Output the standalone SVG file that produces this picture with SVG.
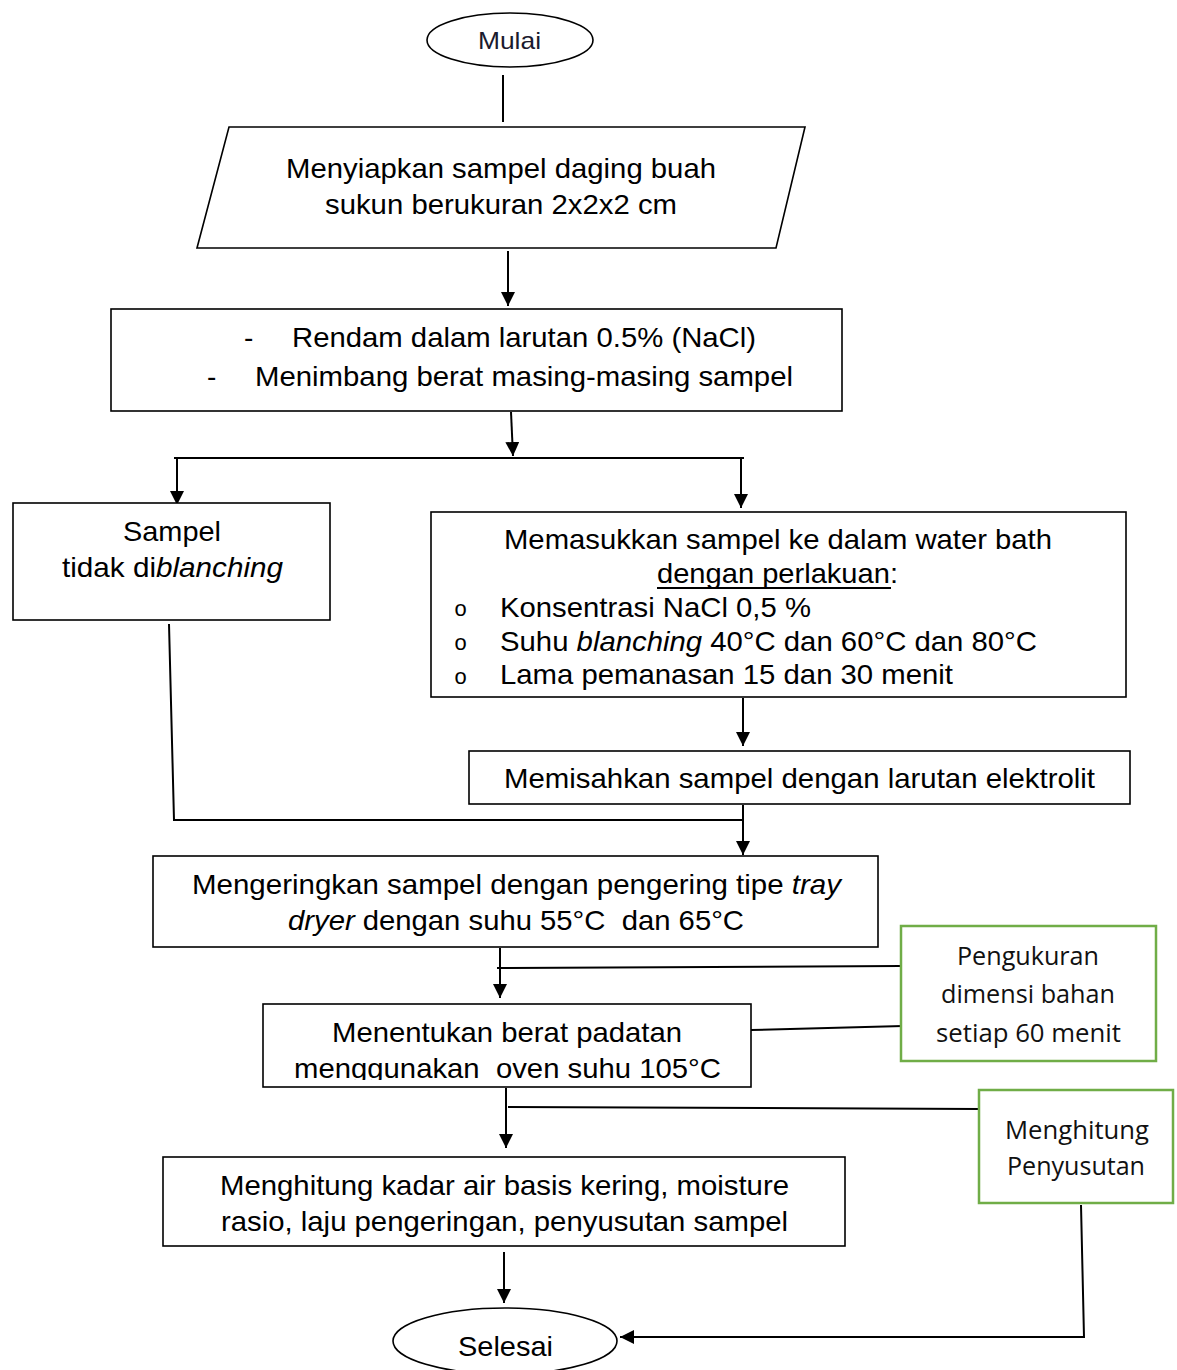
<svg xmlns="http://www.w3.org/2000/svg" width="1177" height="1370" viewBox="0 0 1177 1370">
<defs>
<style>
.box{fill:#fff;stroke:#000;stroke-width:1.6}
.gbox{fill:#fff;stroke:#70ad47;stroke-width:2.5}
.t{font-family:"Liberation Sans",Arial,sans-serif;font-size:28px;fill:#000}
.g{font-family:"Open Sans","Noto Sans",sans-serif;font-size:25px;fill:#111}
.b{font-family:"Liberation Mono","Courier New",monospace;font-size:22px;fill:#000}
.ln{fill:none;stroke:#000;stroke-width:2}
</style>
<marker id="ah" viewBox="0 0 10 10" refX="10" refY="5" markerWidth="14" markerHeight="14" markerUnits="userSpaceOnUse" orient="auto">
<path d="M0,0 L10,5 L0,10 z" fill="#000"/>
</marker>
<clipPath id="clipM"><rect x="264" y="1005" width="486" height="75"/></clipPath>
</defs>

<g id="connectors">
<line class="ln" x1="503" y1="75" x2="503" y2="122"/>
<line class="ln" x1="508" y1="251" x2="508" y2="306" marker-end="url(#ah)"/>
<line class="ln" x1="511" y1="412" x2="513" y2="456" marker-end="url(#ah)"/>
<line class="ln" x1="174" y1="458" x2="744" y2="458"/>
<line class="ln" x1="177" y1="458" x2="177" y2="505" marker-end="url(#ah)"/>
<line class="ln" x1="741" y1="459" x2="741" y2="508" marker-end="url(#ah)"/>
<line class="ln" x1="743" y1="698" x2="743" y2="746" marker-end="url(#ah)"/>
<polyline class="ln" points="169,624 174,820 743,820"/>
<line class="ln" x1="743" y1="805" x2="743" y2="855" marker-end="url(#ah)"/>
<line class="ln" x1="500" y1="948" x2="500" y2="998" marker-end="url(#ah)"/>
<line class="ln" x1="497" y1="968" x2="901" y2="966"/>
<line class="ln" x1="751" y1="1030" x2="903" y2="1026"/>
<line class="ln" x1="506" y1="1088" x2="506" y2="1148" marker-end="url(#ah)"/>
<line class="ln" x1="508" y1="1107" x2="979" y2="1109"/>
<line class="ln" x1="504" y1="1252" x2="504" y2="1303" marker-end="url(#ah)"/>
<polyline class="ln" points="1081,1205 1084,1337 620,1337" marker-end="url(#ah)"/>
</g>

<g id="mulai">
<ellipse cx="510" cy="40" rx="83" ry="27" fill="#fff" stroke="#000" stroke-width="1.6"/>
<text class="t" x="478" y="49" textLength="63" lengthAdjust="spacingAndGlyphs" style="font-size:24px;fill:#1a1a2e">Mulai</text>
</g>

<g id="menyiapkan">
<polygon class="box" points="229,127 805,127 776,248 197,248"/>
<text class="t" x="286" y="178" textLength="430" lengthAdjust="spacingAndGlyphs">Menyiapkan sampel daging buah</text>
<text class="t" x="325" y="214" textLength="352" lengthAdjust="spacingAndGlyphs">sukun berukuran 2x2x2 cm</text>
</g>

<g id="rendam">
<rect class="box" x="111" y="309" width="731" height="102"/>
<text class="t" x="244" y="347">-</text>
<text class="t" x="292" y="347" textLength="464" lengthAdjust="spacingAndGlyphs">Rendam dalam larutan 0.5% (NaCl)</text>
<text class="t" x="207" y="386">-</text>
<text class="t" x="255" y="386" textLength="538" lengthAdjust="spacingAndGlyphs">Menimbang berat masing-masing sampel</text>
</g>

<g id="tidak-blanching">
<rect class="box" x="13" y="503" width="317" height="117"/>
<text class="t" x="123" y="541" textLength="98" lengthAdjust="spacingAndGlyphs">Sampel</text>
<text class="t" x="62" y="577" textLength="221" lengthAdjust="spacingAndGlyphs">tidak di<tspan font-style="italic">blanching</tspan></text>
</g>

<g id="waterbath">
<rect class="box" x="431" y="512" width="695" height="185"/>
<text class="t" x="504" y="549" textLength="548" lengthAdjust="spacingAndGlyphs">Memasukkan sampel ke dalam water bath</text>
<text class="t" x="657" y="583" textLength="241" lengthAdjust="spacingAndGlyphs">dengan perlakuan:</text>
<line x1="657" y1="588" x2="891" y2="588" stroke="#000" stroke-width="1.8"/>
<text class="b" x="454" y="616">o</text>
<text class="t" x="500" y="617" textLength="311" lengthAdjust="spacingAndGlyphs">Konsentrasi NaCl 0,5 %</text>
<text class="b" x="454" y="650">o</text>
<text class="t" x="500" y="651" textLength="537" lengthAdjust="spacingAndGlyphs">Suhu <tspan font-style="italic">blanching</tspan> 40°C dan 60°C dan 80°C</text>
<text class="b" x="454" y="684">o</text>
<text class="t" x="500" y="684" textLength="453" lengthAdjust="spacingAndGlyphs">Lama pemanasan 15 dan 30 menit</text>
</g>

<g id="memisahkan">
<rect class="box" x="469" y="751" width="661" height="53"/>
<text class="t" x="504" y="788" textLength="591" lengthAdjust="spacingAndGlyphs">Memisahkan sampel dengan larutan elektrolit</text>
</g>

<g id="mengeringkan">
<rect class="box" x="153" y="856" width="725" height="91"/>
<text class="t" x="192" y="894" textLength="649" lengthAdjust="spacingAndGlyphs">Mengeringkan sampel dengan pengering tipe <tspan font-style="italic">tray</tspan></text>
<text class="t" x="288" y="930" textLength="456" lengthAdjust="spacingAndGlyphs" xml:space="preserve"><tspan font-style="italic">dryer</tspan> dengan suhu 55°C  dan 65°C</text>
</g>

<g id="pengukuran">
<rect class="gbox" x="901" y="926" width="255" height="135"/>
<text class="g" x="957" y="965" textLength="142" lengthAdjust="spacingAndGlyphs">Pengukuran</text>
<text class="g" x="941" y="1003" textLength="174" lengthAdjust="spacingAndGlyphs">dimensi bahan</text>
<text class="g" x="936" y="1042" textLength="185" lengthAdjust="spacingAndGlyphs">setiap 60 menit</text>
</g>

<g id="menentukan">
<rect class="box" x="263" y="1004" width="488" height="83"/>
<g clip-path="url(#clipM)">
<text class="t" x="332" y="1042" textLength="350" lengthAdjust="spacingAndGlyphs">Menentukan berat padatan</text>
<text class="t" x="294" y="1078" textLength="427" lengthAdjust="spacingAndGlyphs" xml:space="preserve">menggunakan  oven suhu 105°C</text>
</g>
</g>

<g id="menghitung-penyusutan">
<rect class="gbox" x="979" y="1090" width="194" height="113"/>
<text class="g" x="1005" y="1139" textLength="144" lengthAdjust="spacingAndGlyphs">Menghitung</text>
<text class="g" x="1007" y="1175" textLength="138" lengthAdjust="spacingAndGlyphs">Penyusutan</text>
</g>

<g id="menghitung-kadar">
<rect class="box" x="163" y="1157" width="682" height="89"/>
<text class="t" x="220" y="1195" textLength="569" lengthAdjust="spacingAndGlyphs">Menghitung kadar air basis kering, moisture</text>
<text class="t" x="221" y="1231" textLength="567" lengthAdjust="spacingAndGlyphs">rasio, laju pengeringan, penyusutan sampel</text>
</g>

<g id="selesai">
<ellipse cx="505" cy="1341" rx="112" ry="33" fill="#fff" stroke="#000" stroke-width="1.6"/>
<text class="t" x="458" y="1356" textLength="95" lengthAdjust="spacingAndGlyphs">Selesai</text>
</g>
</svg>
